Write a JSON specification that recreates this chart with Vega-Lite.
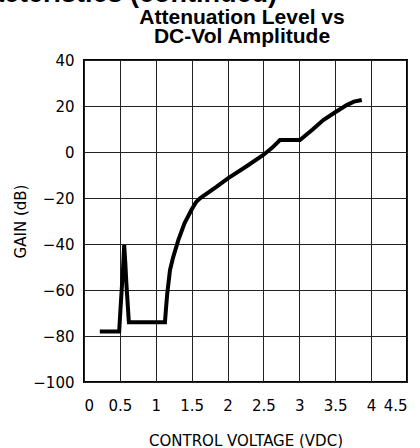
{
  "$schema": "https://vega.github.io/schema/vega-lite/v6.json",
  "width": 323,
  "height": 322,
  "autosize": {"type": "none"},
  "padding": {"left": 84, "top": 60, "right": 13, "bottom": 66},
  "background": "white",
  "config": {
    "view": {"stroke": "black", "strokeWidth": 2},
    "axis": {
      "grid": true,
      "gridColor": "#222222",
      "gridWidth": 1,
      "gridOpacity": 1,
      "ticks": false,
      "domain": false,
      "labelFont": "DejaVu Sans",
      "labelFontSize": 15,
      "labelColor": "black",
      "labelOverlap": false,
      "titleFont": "DejaVu Sans",
      "titleFontWeight": "normal",
      "titleFontSize": 15,
      "titleColor": "black"
    }
  },
  "layer": [
    {
      "data": {
        "values": [
          {"v": 0.22, "g": -78},
          {"v": 0.49, "g": -78},
          {"v": 0.505, "g": -70},
          {"v": 0.525, "g": -60},
          {"v": 0.545, "g": -50},
          {"v": 0.56, "g": -40.5},
          {"v": 0.575, "g": -48},
          {"v": 0.59, "g": -57},
          {"v": 0.625, "g": -74},
          {"v": 1.128, "g": -74},
          {"v": 1.145, "g": -67},
          {"v": 1.16, "g": -61.5},
          {"v": 1.198, "g": -51.3},
          {"v": 1.24, "g": -46},
          {"v": 1.314, "g": -38.3},
          {"v": 1.4, "g": -31},
          {"v": 1.5, "g": -25},
          {"v": 1.56, "g": -21.8},
          {"v": 1.616, "g": -20.1},
          {"v": 1.849, "g": -15.1},
          {"v": 2.0, "g": -11.6},
          {"v": 2.26, "g": -6.3},
          {"v": 2.498, "g": -1.3},
          {"v": 2.62, "g": 1.8},
          {"v": 2.73, "g": 5.2},
          {"v": 3.009, "g": 5.2},
          {"v": 3.185, "g": 9.8},
          {"v": 3.334, "g": 13.9},
          {"v": 3.5, "g": 17.3},
          {"v": 3.66, "g": 20.4},
          {"v": 3.76, "g": 21.9},
          {"v": 3.87, "g": 22.6}
        ]
      },
      "mark": {"type": "line", "color": "black", "strokeWidth": 4},
      "encoding": {
        "x": {
          "field": "v",
          "type": "quantitative",
          "scale": {"domain": [0, 4.5], "nice": false, "zero": false},
          "axis": {
            "values": [0, 0.5, 1, 1.5, 2, 2.5, 3, 3.5, 4, 4.5],
            "format": "~g",
            "title": "CONTROL VOLTAGE (VDC)",
            "labelPadding": 16,
            "titlePadding": 20
          }
        },
        "y": {
          "field": "g",
          "type": "quantitative",
          "scale": {"domain": [-100, 40], "nice": false, "zero": false},
          "axis": {
            "values": [-100, -80, -60, -40, -20, 0, 20, 40],
            "title": "GAIN (dB)",
            "labelPadding": 10,
            "titlePadding": 4
          }
        }
      }
    },
    {
      "data": {"values": [{}]},
      "mark": {
        "type": "text",
        "text": ["Attenuation Level vs", "DC-Vol Amplitude"],
        "font": "Liberation Sans",
        "fontWeight": "bold",
        "fontSize": 21,
        "lineHeight": 19,
        "align": "center",
        "baseline": "alphabetic",
        "color": "black"
      },
      "encoding": {
        "x": {
          "datum": 2.201,
          "type": "quantitative",
          "axis": {
            "values": [0, 0.5, 1, 1.5, 2, 2.5, 3, 3.5, 4, 4.5],
            "format": "~g",
            "title": "CONTROL VOLTAGE (VDC)",
            "labelPadding": 16,
            "titlePadding": 20
          }
        },
        "y": {
          "datum": 55.65,
          "type": "quantitative",
          "axis": {
            "values": [-100, -80, -60, -40, -20, 0, 20, 40],
            "title": "GAIN (dB)",
            "labelPadding": 10,
            "titlePadding": 4
          }
        }
      }
    },
    {
      "data": {"values": [{}]},
      "mark": {
        "type": "text",
        "text": "Typical Performance Characteristics (continued)",
        "font": "Liberation Sans",
        "fontWeight": "bold",
        "fontSize": 27,
        "align": "right",
        "baseline": "alphabetic",
        "color": "black"
      },
      "encoding": {
        "x": {
          "datum": 2.69,
          "type": "quantitative",
          "axis": {
            "values": [0, 0.5, 1, 1.5, 2, 2.5, 3, 3.5, 4, 4.5],
            "format": "~g",
            "title": "CONTROL VOLTAGE (VDC)",
            "labelPadding": 16,
            "titlePadding": 20
          }
        },
        "y": {
          "datum": 65.4,
          "type": "quantitative",
          "axis": {
            "values": [-100, -80, -60, -40, -20, 0, 20, 40],
            "title": "GAIN (dB)",
            "labelPadding": 10,
            "titlePadding": 4
          }
        }
      }
    }
  ]
}
